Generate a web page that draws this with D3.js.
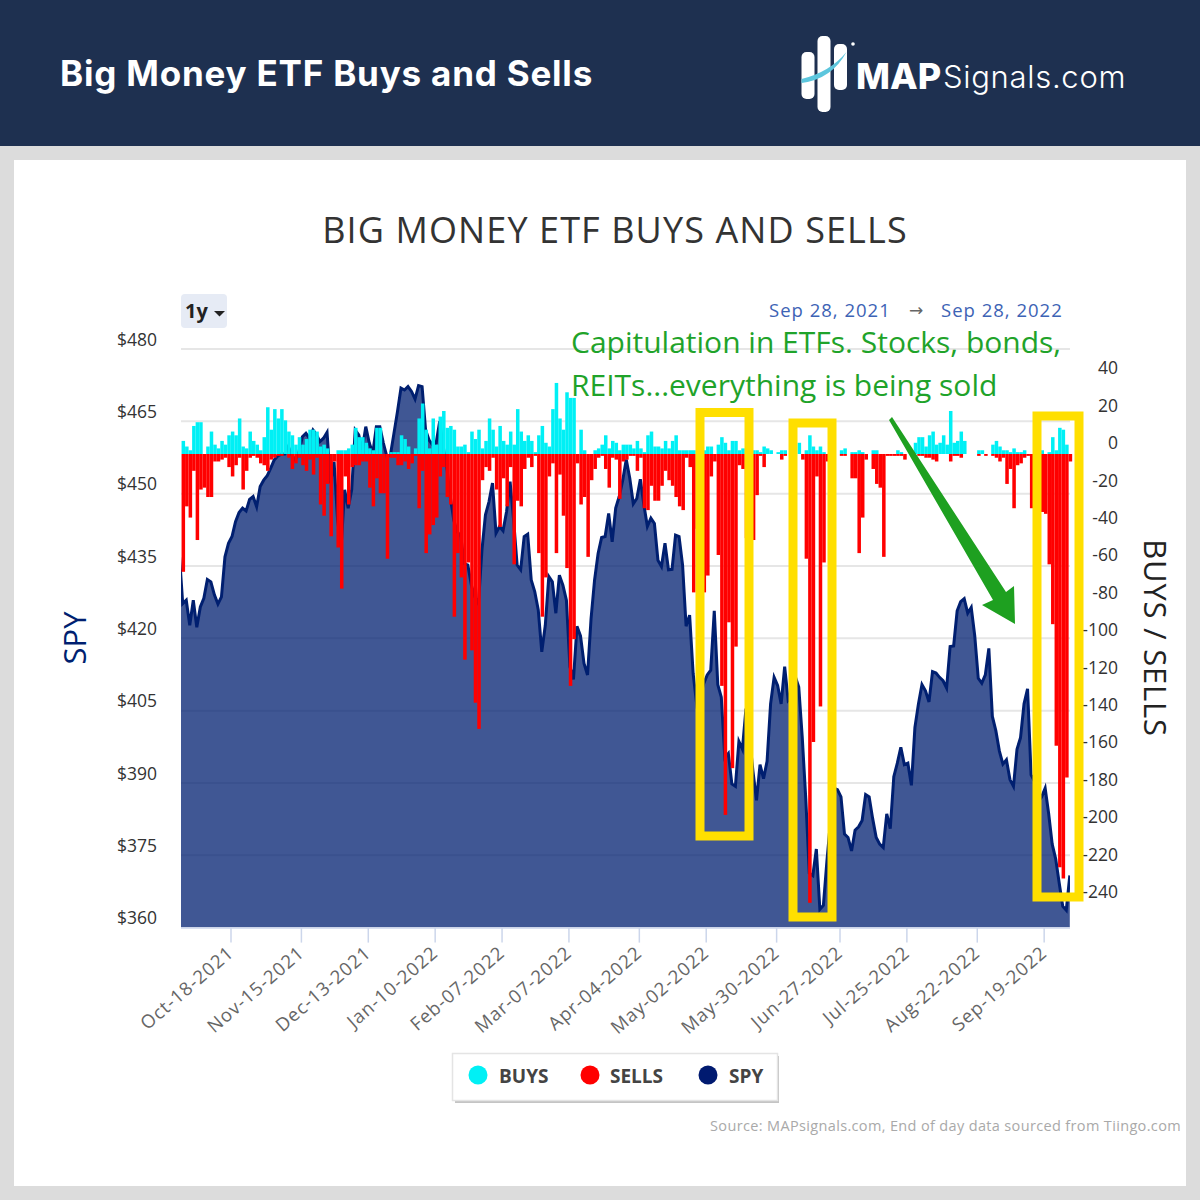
<!DOCTYPE html>
<html>
<head>
<meta charset="utf-8">
<script src="https://cdn.jsdelivr.net/npm/d3@7"></script>
<style>
  html, body { margin: 0; padding: 0; background: #dcdcdc; }
  svg { display: block; }
  text { font-family: "Open Sans", sans-serif; }
</style>
</head>
<body>
<div id="chart"></div>
<script>
// daily counts, one per session, Sep 28 2021 -> Sep 28 2022
var buys = [
  7,4,2,15,17,17,0,4,12,5,
  3,7,5,10,12,10,19,4,3,12,
  7,5,2,9,25,13,24,19,24,18,
  12,10,5,9,5,8,13,13,12,4,
  5,3,0,0,2,2,2,3,5,14,
  9,9,6,3,2,14,14,0,0,1,
  1,1,10,8,4,0,3,19,27,13,
  3,19,5,20,23,14,15,13,4,4,
  5,1,12,8,13,3,7,19,13,4,
  15,7,5,12,5,24,12,7,10,7,
  1,10,15,6,4,24,38,19,13,33,
  30,30,0,13,2,0,0,2,3,5,
  10,3,7,6,2,5,5,5,3,7,
  3,1,10,12,4,4,3,7,3,7,
  10,2,2,2,2,2,2,2,2,4,
  4,0,5,9,6,2,7,7,2,3,
  3,2,2,2,1,4,3,2,0,1,
  2,2,0,0,0,6,0,2,10,4,
  2,4,1,0,0,0,0,2,3,0,
  1,1,2,1,0,0,2,2,0,0,
  0,0,0,2,1,0,0,0,6,9,
  9,4,10,12,5,6,10,5,23,6,
  7,12,7,0,0,0,2,2,0,0,
  5,7,4,2,2,1,3,1,1,2,
  0,0,0,0,2,0,1,9,2,14,
  13,5,0
];
var sells = [
  63,28,34,9,46,19,18,23,23,4,
  4,3,2,7,12,6,2,19,9,2,
  1,2,5,6,9,3,2,1,1,0,
  2,8,5,2,6,9,3,11,2,27,
  33,16,44,4,50,72,12,27,7,6,
  6,4,4,18,28,13,21,21,56,2,
  2,6,6,4,8,5,1,29,9,53,
  43,38,34,12,7,23,27,87,53,66,
  110,58,105,133,147,14,7,9,2,19,
  39,13,28,7,59,25,28,8,2,7,
  1,53,87,66,12,5,53,11,33,61,
  124,99,5,27,23,55,14,8,2,1,
  8,18,2,3,24,4,3,1,1,9,
  2,29,30,17,25,25,17,9,14,17,
  23,28,30,2,7,74,40,30,74,65,
  12,4,54,124,193,90,168,103,6,8,
  45,50,46,22,1,7,0,0,0,0,
  3,1,0,0,0,0,3,56,240,154,
  12,135,58,4,0,0,0,1,1,0,
  13,13,53,34,3,0,8,16,18,55,
  1,1,1,1,1,3,0,0,0,1,
  1,2,2,3,4,0,0,0,4,1,
  1,2,0,0,0,0,1,0,1,0,
  1,2,4,2,16,8,29,6,5,2,
  1,29,32,31,31,32,59,91,156,221,
  227,173,4
];
// one extra leading close, clipped by the plot edge
var spy = [
  438,
  427.2,427.9,422.7,427.9,422.3,426.5,428.3,432.2,431.7,429.0,
  427.1,428.6,436.9,439.7,441.1,444.2,446.1,447.0,446.4,448.8,
  449.4,447.3,451.5,452.8,453.7,455.3,457.0,457.8,458.2,458.2,
  459.8,458.0,457.0,458.7,461.8,462.5,461.5,463.2,462.2,460.8,
  461.5,462.7,452.2,456.6,444.5,439.0,450.8,447.0,450.8,463.2,
  462.2,459.1,463.9,460.5,458.4,463.9,463.9,460.5,457.7,458.0,
  462.5,467.0,471.9,471.5,472.2,471.2,469.6,472.4,472.2,463.2,
  461.1,460.1,460.5,465.0,459.8,455.6,449.4,444.5,442.1,441.1,
  435.5,435.2,431.0,428.6,427.2,438.3,445.6,448.3,452.2,441.8,
  443.2,442.3,446.3,452.5,444.5,435.2,434.2,441.1,441.6,432.1,
  429.7,425.9,417.2,422.7,432.8,431.7,425.2,433.1,431.0,427.9,
  414.1,411.5,422.5,420.5,414.8,412.4,424.1,432.1,437.6,440.9,
  441.1,445.9,440.0,447.0,449.4,452.8,457.1,453.2,447.9,449.0,
  453.0,447.7,443.2,444.9,443.8,436.2,434.9,439.7,434.2,434.3,
  441.4,441.1,435.2,422.5,424.8,412.7,406.4,407.8,410.6,412.4,
  413.4,425.7,410.4,407.8,395.2,396.1,389.8,389.3,398.6,397.0,
  405.4,399.4,392.4,386.4,393.8,390.9,394.5,406.4,411.9,410.2,
  406.4,414.1,407.1,407.8,412.1,409.9,399.4,386.7,371.3,370.8,
  376.3,363.8,364.6,373.8,381.9,388.9,388.6,387.1,379.4,378.7,
  375.9,380.2,380.9,382.2,387.6,387.1,382.6,378.7,377.3,376.6,
  383.6,380.5,391.3,394.1,397.4,393.8,394.1,389.5,401.5,406.4,
  410.4,409.1,406.8,413.1,412.8,411.9,411.2,409.7,418.3,418.4,
  425.7,427.6,428.2,425.2,426.4,420.5,411.7,410.7,412.4,417.9,
  403.8,400.8,396.6,393.9,394.8,390.7,389.3,397.0,399.4,406.4,
  409.5,391.7,390.3,386.1,387.1,388.9,383.6,377.3,374.2,369.2,
  364.4,363.6,370.8
];
var tickIndex = [14,34,53,72,91,110,130,149,169,187,206,226,245];
var tickLabels = ["Oct-18-2021","Nov-15-2021","Dec-13-2021","Jan-10-2022","Feb-07-2022","Mar-07-2022","Apr-04-2022","May-02-2022","May-30-2022","Jun-27-2022","Jul-25-2022","Aug-22-2022","Sep-19-2022"];
var spyTicks = [360,375,390,405,420,435,450,465,480];
var flowTicks = [40,20,0,-20,-40,-60,-80,-100,-120,-140,-160,-180,-200,-220,-240];
var legendNames = ["BUYS","SELLS","SPY"];
var legendColors = ["#00f0f5","#ff0000","#001a70"];
var boxes = [[700,412.5,749,836],[793,423,832,917],[1037,416,1079,897]];

var navy = "#001f70";
var plotLeft = 181, plotRight = 1070, plotTop = 349, plotBottom = 927.6;

var svg = d3.select("#chart").append("svg").attr("width",1200).attr("height",1200);

// page furniture
svg.append("rect").attr("width",1200).attr("height",146).attr("fill","#1e3050");
svg.append("rect").attr("x",14).attr("y",160).attr("width",1172).attr("height",1026).attr("fill","#fff");
svg.append("text").attr("x",60).attr("y",86).attr("fill","#fff")
  .style("font-family","Inter").style("font-weight",700).style("font-size","35px").style("letter-spacing","0.8px")
  .text("Big Money ETF Buys and Sells");

// logo
var logo = svg.append("g");
logo.append("rect").attr("x",801.5).attr("y",52).attr("width",13).attr("height",47).attr("rx",5).attr("fill","#fff");
logo.append("rect").attr("x",817.5).attr("y",36).attr("width",13).attr("height",76).attr("rx",5).attr("fill","#fff");
logo.append("rect").attr("x",834).attr("y",44).attr("width",13).attr("height",46).attr("rx",5).attr("fill","#fff");
logo.append("circle").attr("cx",853).attr("cy",44).attr("r",1.8).attr("fill","#fff");
logo.append("path").attr("d","M801.5 83 Q832 79 846.5 52 Q830 72 801.5 79 Z").attr("fill","#5cc6dd");
logo.append("text").attr("x",856).attr("y",89).attr("fill","#fff")
  .style("font-family","Inter").style("font-weight",800).style("font-size","36px").text("MAP");
logo.append("text").attr("x",943).attr("y",88).attr("fill","#fff")
  .style("font-family","Inter").style("font-weight",300).style("font-size","31px").style("letter-spacing","0.7px").text("Signals.com");

// chart title and controls
svg.append("text").attr("x",615).attr("y",243).attr("text-anchor","middle").attr("fill","#333")
  .style("font-size","36px").style("letter-spacing","1.1px").text("BIG MONEY ETF BUYS AND SELLS");
svg.append("rect").attr("x",181).attr("y",294).attr("width",46).attr("height",34).attr("rx",4).attr("fill","#e6ebf5");
svg.append("text").attr("x",185).attr("y",318).attr("fill","#222")
  .style("font-size","20px").style("font-weight",700).text("1y");
svg.append("path").attr("d","M214 311 l11 0 l-5.5 5.5 Z").attr("fill","#222");
svg.append("text").attr("x",769).attr("y",317).attr("fill","#3d63b5")
  .style("font-size","18.5px").style("letter-spacing","1px").text("Sep 28, 2021");
svg.append("text").attr("x",916).attr("y",316).attr("text-anchor","middle").attr("fill","#666")
  .style("font-family","DejaVu Sans").style("font-size","17px").text("\u2192");
svg.append("text").attr("x",941).attr("y",317).attr("fill","#3d63b5")
  .style("font-size","18.5px").style("letter-spacing","1px").text("Sep 28, 2022");

// scales
var x = d3.scaleLinear().domain([0,spy.length-1]).range([179.2,1069.8]);
var ySpy = d3.scaleLinear().domain([360,480]).range([plotBottom,plotTop]);
var yFlow = d3.scaleLinear().domain([40,-240]).range([379.2,902.8]);
var barW = (x(1)-x(0));

svg.append("clipPath").attr("id","plot").append("rect")
  .attr("x",plotLeft).attr("y",340).attr("width",plotRight-plotLeft).attr("height",plotBottom-340);

// gridlines
svg.append("g").selectAll("line").data(spyTicks.slice(1)).enter().append("line")
  .attr("x1",plotLeft).attr("x2",plotRight)
  .attr("y1",function(d){ return ySpy(d); }).attr("y2",function(d){ return ySpy(d); })
  .attr("stroke","#e6e6e6").attr("stroke-width",2);

// left axis, labels sit above their gridlines
var leftAxis = d3.axisLeft(ySpy).tickValues(spyTicks).tickSize(0).tickFormat(function(d){ return "$"+d; });
var gl = svg.append("g").attr("transform","translate(160,-9.5)").call(leftAxis);
gl.select(".domain").remove();
gl.selectAll("text").attr("fill","#333").style("font-size","17.5px");

// right axis, minus signs of the long labels end up under the yellow box
var rightAxis = d3.axisRight(yFlow).tickValues(flowTicks).tickSize(0).tickFormat(function(d){ return String(d); });
var gr = svg.append("g").attr("transform","translate(1118,-11)").call(rightAxis);
gr.select(".domain").remove();
gr.selectAll("text").attr("x",0).attr("text-anchor","end").attr("fill","#333").style("font-size","17.5px");

// SPY area and line
var plot = svg.append("g").attr("clip-path","url(#plot)");
var area = d3.area().x(function(d,i){ return x(i); }).y0(plotBottom).y1(function(d){ return ySpy(d); });
var line = d3.line().x(function(d,i){ return x(i); }).y(function(d){ return ySpy(d); });
plot.append("path").datum(spy).attr("d",area).attr("fill",navy).attr("fill-opacity",0.75);
plot.append("path").datum(spy).attr("d",line).attr("fill","none").attr("stroke",navy).attr("stroke-width",3);

// bars
function drawBars(data, color, up){
  svg.append("g").selectAll("rect").data(data).enter().append("rect")
    .attr("x",function(d,i){ return x(i+1)-barW/2+0.6; })
    .attr("width",barW)
    .attr("y",function(d){ return up ? yFlow(d) : yFlow(0); })
    .attr("height",function(d){ return up ? yFlow(0)-yFlow(d) : yFlow(-d)-yFlow(0); })
    .attr("fill",color);
}
drawBars(buys,"#00f0f5",true);
drawBars(sells,"#ff0000",false);

// x axis
var bottomAxis = d3.axisBottom(x).tickValues(tickIndex.map(function(d){ return d+1; })).tickSize(15)
  .tickFormat(function(d,i){ return tickLabels[i]; });
var gx = svg.append("g").attr("transform","translate(-1.5,"+plotBottom+")").call(bottomAxis);
gx.select(".domain").attr("d","M182.5 0.5H1071.5").attr("stroke","#ccd6eb").attr("stroke-width",1.5);
gx.selectAll("line").attr("stroke","#ccd6eb").attr("stroke-width",1.5);
gx.selectAll("text").attr("text-anchor","end").attr("fill","#666")
  .style("font-size","18.5px").style("letter-spacing","1px")
  .attr("y",0).attr("dy",0).attr("x",0)
  .attr("transform","translate(4,27) rotate(-41)");

// axis titles
svg.append("text").attr("transform","translate(86,638) rotate(-90)").attr("text-anchor","middle")
  .attr("fill",navy).style("font-size","31px").text("SPY");
svg.append("text").attr("transform","translate(1144,638) rotate(90)").attr("text-anchor","middle")
  .attr("fill","#222").style("font-size","31px").style("letter-spacing","0.8px").text("BUYS / SELLS");

// annotation
svg.append("text").attr("x",571).attr("y",353).attr("fill","#1fa32a").style("font-size","30px")
  .text("Capitulation in ETFs. Stocks, bonds,");
svg.append("text").attr("x",571).attr("y",396).attr("fill","#1fa32a").style("font-size","30px")
  .text("REITs...everything is being sold");
svg.selectAll(".box").data(boxes).enter().append("rect").attr("class","box")
  .attr("x",function(d){ return d[0]; }).attr("y",function(d){ return d[1]; })
  .attr("width",function(d){ return d[2]-d[0]; }).attr("height",function(d){ return d[3]-d[1]; })
  .attr("fill","none").attr("stroke","#ffdf00").attr("stroke-width",9);
svg.append("path").attr("d","M889 420 L892 417 L1006 592 L1014 586 L1015 624 L982 605 L993 600 Z").attr("fill","#1ea020");

// legend
svg.append("rect").attr("x",455).attr("y",1056).attr("width",324).attr("height",47).attr("fill","#c4c4c4");
svg.append("rect").attr("x",452.5).attr("y",1053.5).attr("width",325).attr("height",47).attr("fill","#fff").attr("stroke","#e4e4e4").attr("stroke-width",1.5);
var legendDotX = [478,590,708];
var legendTextX = [499,610,729];
legendNames.forEach(function(name,i){
  svg.append("circle").attr("cx",legendDotX[i]).attr("cy",1075).attr("r",9.5).attr("fill",legendColors[i]);
  svg.append("text").attr("x",legendTextX[i]).attr("y",1083).attr("fill","#444")
    .style("font-size","19px").style("font-weight",700).text(name);
});

svg.append("text").attr("x",1181).attr("y",1131).attr("text-anchor","end").attr("fill","#a9a9a9")
  .style("font-size","14.5px").style("letter-spacing","0.35px")
  .text("Source: MAPsignals.com, End of day data sourced from Tiingo.com");
</script>
</body>
</html>
